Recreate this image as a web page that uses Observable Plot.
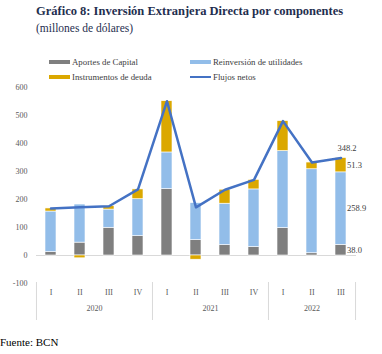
<!DOCTYPE html>
<html><head><meta charset="utf-8">
<script src="https://cdn.jsdelivr.net/npm/d3@7"></script>
<script src="https://cdn.jsdelivr.net/npm/@observablehq/plot@0.6"></script>
<style>
body{margin:0;background:#fff;}
#wrap{position:relative;width:382px;height:354px;font-family:"Liberation Serif",serif;overflow:hidden}
#wrap div{font-family:"Liberation Serif",serif}
#title{position:absolute;left:36px;top:4px;font-size:12.5px;font-weight:bold;color:#1f2f4f;white-space:nowrap}
#sub{position:absolute;left:36px;top:22px;font-size:11.5px;color:#1f2f4f;white-space:nowrap}
.leg{position:absolute;font-size:8.8px;color:#404040;display:flex;align-items:center;white-space:nowrap;height:10px}
.sw{display:inline-block;width:21px;margin-right:2px}
#src{position:absolute;left:0;top:336px;font-size:11px;color:#000}
#chart{position:absolute;left:0;top:0}
</style></head><body>
<div id="wrap">
  <div id="chart"></div>
  <div id="title">Gráfico 8: Inversión Extranjera Directa por componentes</div>
  <div id="sub">(millones de dólares)</div>
  <div id="legend"></div>
  <div id="src">Fuente: BCN</div>
</div>
<script>
const years = ["2020","2020","2020","2020","2021","2021","2021","2021","2022","2022","2022"];
const quarters = ["I","II","III","IV","I","II","III","IV","I","II","III"];
const aportes = [12, 46, 99, 69, 237, 55, 37, 30, 98, 8, 38.0];
const reinversion = [145, 136, 65, 132, 131, 132, 148, 206, 275, 300, 258.9];
const instrumentos = [11, -10, 12, 35, 183, -15, 50, 34, 107, 24, 51.3];
const flujos = [168, 172, 176, 236, 551, 172, 235, 270, 480, 332, 348.2];
const seriesNames = ["Aportes de Capital", "Reinversión de utilidades", "Instrumentos de deuda"];
const lineName = "Flujos netos";
const seriesColors = ["#7f7f7f", "#92bde9", "#dba800"];
const lineColor = "#4472c4";
const yTicks = [-100, 0, 100, 200, 300, 400, 500, 600];

const keys = quarters.map((q, i) => years[i] + "-" + q);
const seriesValues = [aportes, reinversion, instrumentos];
const bars = [];
keys.forEach((k, i) => seriesValues.forEach((vals, s) => bars.push({key: k, series: seriesNames[s], value: vals[i], last: i === keys.length - 1})));
const lineData = keys.map((k, i) => ({key: k, value: flujos[i], last: i === keys.length - 1}));

const W = 382, H = 354, mL = 36, mR = 26, mT = 87, mB = 71;
const step = (W - mL - mR) / keys.length;
const yearFirst = keys.filter((k, i) => i === 0 || years[i] !== years[i - 1]);
const font = "Liberation Serif";

const yearGroups = [...new Set(years)].map(y => {
  const idx = years.map((v, i) => v === y ? i : -1).filter(i => i >= 0);
  return {year: y, idx};
});
const evenYears = yearGroups.filter(g => g.idx.length % 2 === 0).map(g => ({year: g.year, key: keys[g.idx[g.idx.length / 2 - 1]]}));
const oddYears = yearGroups.filter(g => g.idx.length % 2 === 1).map(g => ({year: g.year, key: keys[g.idx[(g.idx.length - 1) / 2]]}));

const fmt = d => d.toFixed(1);

const chart = Plot.plot({
  width: W, height: H,
  marginTop: mT, marginBottom: mB, marginLeft: mL, marginRight: mR,
  style: {fontFamily: font, background: "transparent", color: "#595959"},
  x: {type: "band", domain: keys, paddingInner: 0.62, paddingOuter: 0.31, axis: null, label: null},
  y: {domain: [yTicks[0], yTicks[yTicks.length - 1]], axis: null, label: null},
  color: {domain: seriesNames, range: seriesColors},
  marks: [
    Plot.axisY({ticks: yTicks, tickSize: 0, tickPadding: 9, tickFormat: d => String(d), fontSize: 8, fill: "#595959", label: null}),
    Plot.axisX({tickSize: 0, tickPadding: 6, tickFormat: k => k.split("-")[1], fontSize: 8, fill: "#595959", label: null}),
    Plot.ruleX(yearFirst, {x: d => d, dx: -step / 2, y1: yTicks[0], y2: yTicks[0], insetTop: -1, insetBottom: -37, stroke: "#d9d9d9", strokeWidth: 1}),
    Plot.ruleX([keys[keys.length - 1]], {x: d => d, dx: step / 2, y1: yTicks[0], y2: yTicks[0], insetTop: -1, insetBottom: -37, stroke: "#d9d9d9", strokeWidth: 1}),
    Plot.text(evenYears, {x: "key", text: "year", dx: step / 2, frameAnchor: "bottom", dy: 27, fontSize: 8, fill: "#595959"}),
    Plot.text(oddYears, {x: "key", text: "year", frameAnchor: "bottom", dy: 27, fontSize: 8, fill: "#595959"}),
    Plot.ruleY([0], {stroke: "#d9d9d9", strokeWidth: 1}),
    Plot.barY(bars, Plot.stackY({x: "key", y: "value", fill: "series", z: "series", stroke: "white", strokeWidth: 0.6, order: seriesNames})),
    Plot.lineY(lineData, {x: "key", y: "value", stroke: lineColor, strokeWidth: 2.5}),
    Plot.text(bars, Plot.stackY({x: "key", y: "value", z: "series", order: seriesNames, text: d => d.last ? fmt(d.value) : null, textAnchor: "start", dx: 6, fontSize: 8.5, fill: "#404040"})),
    Plot.text(lineData, {x: "key", y: "value", text: d => d.last ? fmt(d.value) : null, dx: 6, dy: -10, fontSize: 8.5, fill: "#404040"})
  ]
});
document.getElementById("chart").appendChild(chart);

const legendItems = [
  {name: seriesNames[0], color: seriesColors[0], type: "bar"},
  {name: seriesNames[1], color: seriesColors[1], type: "bar"},
  {name: seriesNames[2], color: seriesColors[2], type: "bar"},
  {name: lineName, color: lineColor, type: "line"}
];
const legPos = [[49, 57], [190, 57], [49, 72], [190, 72]];
const leg = document.getElementById("legend");
legendItems.forEach((it, i) => {
  const d = document.createElement("div");
  d.className = "leg";
  d.style.left = legPos[i][0] + "px";
  d.style.top = legPos[i][1] + "px";
  const s = document.createElement("span");
  s.className = "sw";
  s.style.height = it.type === "line" ? "2px" : "4px";
  s.style.background = it.color;
  d.appendChild(s);
  d.appendChild(document.createTextNode(it.name));
  leg.appendChild(d);
});
</script>
</body></html>
